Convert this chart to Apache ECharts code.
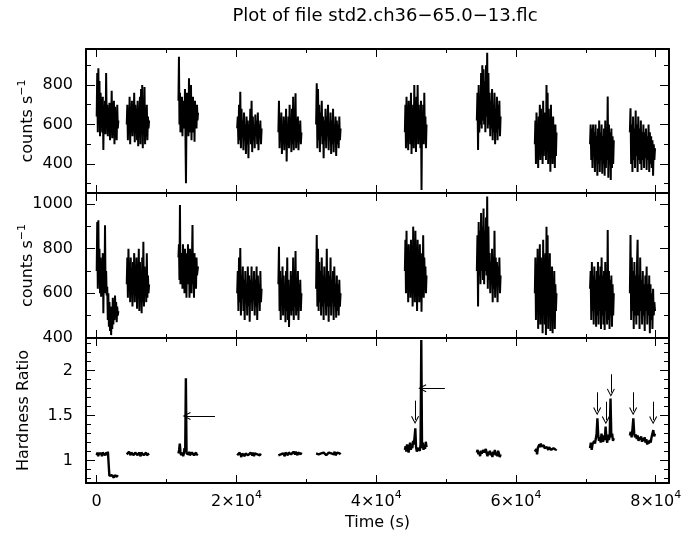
<!DOCTYPE html>
<html><head><meta charset="utf-8">
<script src="https://cdn.jsdelivr.net/npm/echarts@6/dist/echarts.min.js"></script>
<style>html,body{margin:0;padding:0;background:#fff}#c{width:683px;height:537px}</style>
</head><body><div id="c"></div>
<script>
// ---------------- data ----------------
const TITLE = 'Plot of file std2.ch36\u221265.0\u221213.flc';
const X_NAME = 'Time (s)';
const Y_NAMES = ['counts s{sup|\u22121}', 'counts s{sup|\u22121}', 'Hardness Ratio'];

// observation segments (s)
const SEG_START = [0, 4300, 11700, 20100, 26000, 31400, 44100, 54400, 62700, 70600, 76300];
const SEG_END   = [3100, 7500, 14500, 23600, 29300, 34900, 47200, 57800, 65800, 74000, 79900];

// panel 1: count rate (counts/s)
const RATE_1 = [
  [640,860,560,884,600,820,540,760,650,700,560,740,471,690,580,720,550,860,600,700,540,680,590,710,520,660,600,770,530,650,580,720,500,690,560,640,520,700,580,620],
  [600,700,520,680,560,740,500,690,580,720,540,660,600,760,510,700,560,680,520,720,490,650,570,740,500,780,550,800,480,720,560,790,500,680,540,700,520,640,580,620],
  [720,943,600,760,560,700,620,740,540,690,600,720,580,780,530,302,620,760,600,720,540,834,590,700,560,800,520,680,600,740,560,700,513,720,600,680,580,700,620,660],
  [580,640,500,700,520,766,480,680,540,620,470,660,520,600,450,640,500,620,429,600,540,680,500,720,460,640,520,600,480,650,540,620,500,660,470,600,530,620,500,580],
  [560,720,480,620,520,660,450,600,500,640,470,620,530,680,412,600,500,640,480,700,520,620,460,680,500,740,470,620,520,758,480,600,510,640,470,600,520,620,500,560],
  [600,808,480,780,520,700,460,660,540,720,500,640,429,620,520,680,480,640,540,700,470,600,520,660,450,620,500,680,460,600,520,640,440,620,500,600,480,640,520,580],
  [560,700,480,740,520,660,470,720,540,680,500,760,450,640,530,700,480,800,520,680,460,740,540,800,500,700,520,660,480,720,268,640,540,700,500,760,520,640,480,600],
  [620,760,471,800,560,720,600,860,580,900,620,880,600,820,560,900,640,963,580,860,600,760,540,720,580,780,520,700,560,760,500,680,560,740,520,700,580,720,540,640],
  [500,620,400,660,440,600,380,640,480,700,420,680,460,620,400,720,440,660,480,640,420,800,460,760,400,680,440,620,361,700,460,620,400,640,440,600,380,600,440,560],
  [500,600,420,580,380,600,440,560,360,600,420,540,340,580,400,620,360,560,420,600,350,540,400,580,340,620,380,560,420,741,330,600,400,560,319,580,380,540,400,520],
  [560,682,400,600,360,640,420,580,380,670,440,600,360,640,420,580,400,620,370,560,420,600,380,560,430,580,370,540,420,600,360,560,400,540,380,520,340,500,420,480]
];

// panel 2: count rate (counts/s)
const RATE_2 = [
  [700,920,620,928,640,800,600,760,584,720,640,780,510,740,620,905,600,700,590,629,480,600,450,560,430,540,412,520,440,580,460,540,480,590,500,560,470,540,500,520],
  [640,760,580,800,620,720,560,760,600,700,540,740,620,780,560,700,600,760,530,720,600,800,520,740,580,700,510,760,560,831,540,720,600,700,560,780,580,680,600,640],
  [760,820,660,996,640,780,700,740,620,820,680,760,600,800,660,740,580,780,700,820,640,760,580,800,680,740,600,760,906,640,720,580,780,660,740,620,760,680,700,720],
  [600,700,520,760,560,803,500,680,580,720,520,660,480,700,560,640,500,720,540,680,472,660,560,720,520,640,580,700,500,660,540,720,480,680,560,640,520,700,560,620],
  [640,809,520,700,480,660,560,720,500,680,540,640,470,700,520,760,480,660,449,620,540,700,500,680,520,760,480,700,540,790,500,660,520,700,480,640,540,660,520,600],
  [620,861,540,800,520,740,560,700,500,760,540,680,480,720,560,660,500,800,540,700,472,680,540,760,500,660,560,700,480,720,540,640,490,680,520,640,500,660,540,600],
  [700,840,600,880,620,760,560,820,640,780,580,840,600,760,540,899,620,800,560,880,600,760,520,840,620,780,560,820,600,740,517,780,620,860,580,760,640,720,600,680],
  [700,860,540,920,680,880,640,960,700,900,660,980,640,880,700,940,680,1034,620,900,660,780,600,740,640,800,560,760,620,880,580,760,640,740,560,720,640,760,600,680],
  [600,760,480,720,520,800,440,700,560,820,460,760,500,680,420,840,520,720,460,780,412,899,500,860,440,740,520,780,430,700,480,720,420,660,500,700,440,640,520,600],
  [620,700,480,740,520,680,460,720,540,660,450,700,500,740,460,680,520,720,440,760,500,680,460,700,435,740,520,680,460,884,480,700,440,660,500,680,450,640,500,600],
  [600,861,480,760,520,700,440,740,500,680,460,720,840,500,680,440,760,520,660,460,700,500,640,430,680,520,720,460,640,500,680,420,640,480,600,440,620,500,560,520]
];

// panel 3: hardness ratio
const HARDNESS = [
  [1.06,1.09,1.05,1.08,1.10,1.06,1.08,1.05,1.09,1.07,1.10,1.06,1.08,1.09,1.06,1.10,1.08,0.83,0.85,0.81,0.84,0.82,0.86,0.81,0.84,0.83,0.85,0.82,0.84,0.83],
  [1.07,1.09,1.06,1.10,1.08,1.06,1.09,1.07,1.10,1.06,1.08,1.09,1.07,1.10,1.06,1.08,1.09,1.07,1.05,1.09,1.08,1.10,1.06,1.08,1.07,1.09,1.06,1.08,1.07,1.08],
  [1.08,1.12,1.19,1.10,1.06,1.09,1.07,1.05,1.08,1.14,1.10,1.915,1.08,1.06,1.09,1.07,1.10,1.06,1.08,1.05,1.09,1.07,1.10,1.06,1.08,1.07,1.09,1.06,1.08,1.07],
  [1.06,1.08,1.05,1.09,1.07,1.04,1.08,1.06,1.09,1.05,1.08,1.07,1.10,1.06,1.08,1.05,1.09,1.07,1.06,1.09,1.05,1.08,1.06,1.09,1.07,1.05,1.08,1.06,1.08,1.07],
  [1.06,1.08,1.05,1.07,1.09,1.06,1.08,1.07,1.05,1.09,1.07,1.08,1.06,1.09,1.07,1.10,1.07,1.09,1.06,1.10,1.08,1.07,1.10,1.08,1.06,1.09,1.08,1.10,1.07,1.09],
  [1.08,1.06,1.10,1.07,1.09,1.05,1.08,1.10,1.06,1.09,1.07,1.10,1.06,1.08,1.05,1.09,1.07,1.10,1.08,1.06,1.09,1.07,1.10,1.06,1.08,1.09,1.07,1.10,1.08,1.07],
  [1.12,1.16,1.10,1.18,1.13,1.09,1.15,1.20,1.12,1.17,1.14,1.22,1.18,1.26,1.36,1.15,1.10,1.14,1.12,1.16,1.11,1.18,2.34,1.14,1.20,1.12,1.17,1.13,1.21,1.15],
  [1.09,1.12,1.07,1.10,1.05,1.11,1.08,1.06,1.12,1.09,1.07,1.13,1.08,1.05,1.10,1.07,1.11,1.06,1.09,1.04,1.10,1.07,1.12,1.06,1.09,1.05,1.11,1.08,1.04,1.07],
  [1.10,1.08,1.13,1.07,1.14,1.16,1.18,1.15,1.19,1.16,1.18,1.15,1.17,1.14,1.16,1.13,1.15,1.14,1.12,1.15,1.13,1.14,1.12,1.13,1.11,1.14,1.12,1.13,1.12,1.13],
  [1.14,1.20,1.12,1.18,1.16,1.22,1.19,1.24,1.30,1.47,1.28,1.22,1.26,1.20,1.30,1.24,1.21,1.28,1.23,1.38,1.25,1.20,1.29,1.23,1.27,1.69,1.26,1.30,1.22,1.25],
  [1.28,1.32,1.26,1.35,1.47,1.30,1.26,1.29,1.24,1.28,1.22,1.26,1.23,1.27,1.21,1.25,1.22,1.26,1.20,1.24,1.18,1.22,1.19,1.23,1.20,1.26,1.28,1.34,1.27,1.30]
];

// annotation arrows in the hardness panel: [x from, y from, x to, y to]
const ARROWS = [
  [16920, 1.497, 12880, 1.497],
  [49830, 1.805, 46600, 1.805],
  [45560, 1.667, 45560, 1.452],
  [71620, 1.760, 71620, 1.550],
  [72860, 1.655, 72860, 1.450],
  [73580, 1.960, 73580, 1.756],
  [76770, 1.760, 76770, 1.550],
  [79630, 1.655, 79630, 1.450]
];

// axes
const X_RANGE = [-1530, 81900];
const X_MAJOR = [0, 20000, 40000, 60000, 80000];
const X_MINOR = [10000, 30000, 50000, 70000];
const Y_RANGES = [[253, 982], [399, 1050], [0.752, 2.363]];
const Y_MAJOR = [[400, 600, 800], [400, 600, 800, 1000], [1, 1.5, 2]];
const Y_MINOR = [[300, 500, 700, 900], [500, 700, 900],
  [0.8, 0.9, 1.1, 1.2, 1.3, 1.4, 1.6, 1.7, 1.8, 1.9, 2.1, 2.2, 2.3]];
const PANELS = [RATE_1, RATE_2, HARDNESS];

// ---------------- layout ----------------
const FONT = 'DejaVu Sans';
const GRID_TOP = [49, 193, 338];
const GRID_H = [144, 145, 145];
const NAME_GAP = [47, 47, 51];
const OPEN_ARROW = 'path://M5,0 L10,10 L8.8,10.6 L5,2.6 L1.2,10.6 L0,10 Z';

const grid = [], xAxis = [], yAxis = [], series = [];
const mainX = [], mainY = [];

function fmtX(v) {
  if (v === 0) return '{m|0}';
  return '{m|' + (v / 1e4) + '\u00d710}{s|4}';
}
function fmtY(v) { return String(v); }

for (let p = 0; p < 3; p++) {
  grid.push({ left: 86, right: 14, top: GRID_TOP[p], height: GRID_H[p],
    containLabel: false, outerBoundsMode: 'none' });
  ['bottom', 'top'].forEach(pos => {
    [true, false].forEach(major => {
      const lab = major && pos === 'bottom' && p === 2;
      if (major && pos === 'bottom') mainX[p] = xAxis.length;
      xAxis.push({
        type: 'value', gridIndex: p, position: pos,
        min: X_RANGE[0], max: X_RANGE[1],
        name: lab ? X_NAME : '', nameLocation: 'middle', nameGap: 32, nameMoveOverlap: false,
        nameTextStyle: { fontFamily: FONT, fontSize: 16, color: '#000' },
        axisLine: { show: major, onZero: false, lineStyle: { color: '#000', width: 2 } },
        axisTick: { show: true, inside: true, length: major ? 8 : 4,
          customValues: major ? X_MAJOR : X_MINOR, lineStyle: { color: '#000', width: 1 } },
        axisLabel: { show: lab, customValues: X_MAJOR, margin: 7, formatter: fmtX,
          rich: {
            m: { fontFamily: FONT, fontSize: 16, color: '#000', lineHeight: 24 },
            s: { fontFamily: FONT, fontSize: 11, color: '#000', lineHeight: 12, verticalAlign: 'top' }
          } },
        splitLine: { show: false }
      });
    });
  });
  ['left', 'right'].forEach(pos => {
    [true, false].forEach(major => {
      const lab = major && pos === 'left';
      if (lab) mainY[p] = yAxis.length;
      yAxis.push({
        type: 'value', gridIndex: p, position: pos,
        min: Y_RANGES[p][0], max: Y_RANGES[p][1],
        name: lab ? Y_NAMES[p] : '', nameLocation: 'middle', nameGap: NAME_GAP[p],
        nameMoveOverlap: false,
        nameTextStyle: { fontFamily: FONT, fontSize: 16, color: '#000', lineHeight: 22,
          rich: { sup: { fontFamily: FONT, fontSize: 11, color: '#000', lineHeight: 12, verticalAlign: 'top' } } },
        axisLine: { show: major, onZero: false, lineStyle: { color: '#000', width: 2 } },
        axisTick: { show: true, inside: true, length: major ? 9 : 5,
          customValues: major ? Y_MAJOR[p] : Y_MINOR[p], lineStyle: { color: '#000', width: 1 } },
        axisLabel: { show: lab, customValues: Y_MAJOR[p], margin: 13, formatter: fmtY,
          fontFamily: FONT, fontSize: 16, color: '#000' },
        splitLine: { show: false }
      });
    });
  });
  PANELS[p].forEach((vals, s) => {
    const t0 = SEG_START[s], t1 = SEG_END[s], n = vals.length;
    const ser = {
      type: 'line', xAxisIndex: mainX[p], yAxisIndex: mainY[p],
      data: vals.map((v, i) => [t0 + i * (t1 - t0) / (n - 1), v]),
      symbol: 'none', showSymbol: false, silent: true,
      lineStyle: { color: '#000', width: p === 2 ? 2.4 : 2 }
    };
    if (p === 2 && s === 0) {
      ser.markLine = {
        silent: true, symbol: ['none', OPEN_ARROW], symbolSize: [8, 8],
        label: { show: false },
        lineStyle: { color: '#000', width: 1, type: 'solid' },
        data: ARROWS.map(a => [{ coord: [a[0], a[1]] }, { coord: [a[2], a[3]] }])
      };
    }
    series.push(ser);
  });
}

const chart = echarts.init(document.getElementById('c'), null, { renderer: 'canvas' });
chart.setOption({
  animation: false,
  backgroundColor: '#fff',
  title: { text: TITLE, left: 385, top: 7, padding: 0, textAlign: 'center',
    textStyle: { fontFamily: FONT, fontSize: 18, fontWeight: 'normal', color: '#000' } },
  grid, xAxis, yAxis, series
});
</script>
</body></html>
